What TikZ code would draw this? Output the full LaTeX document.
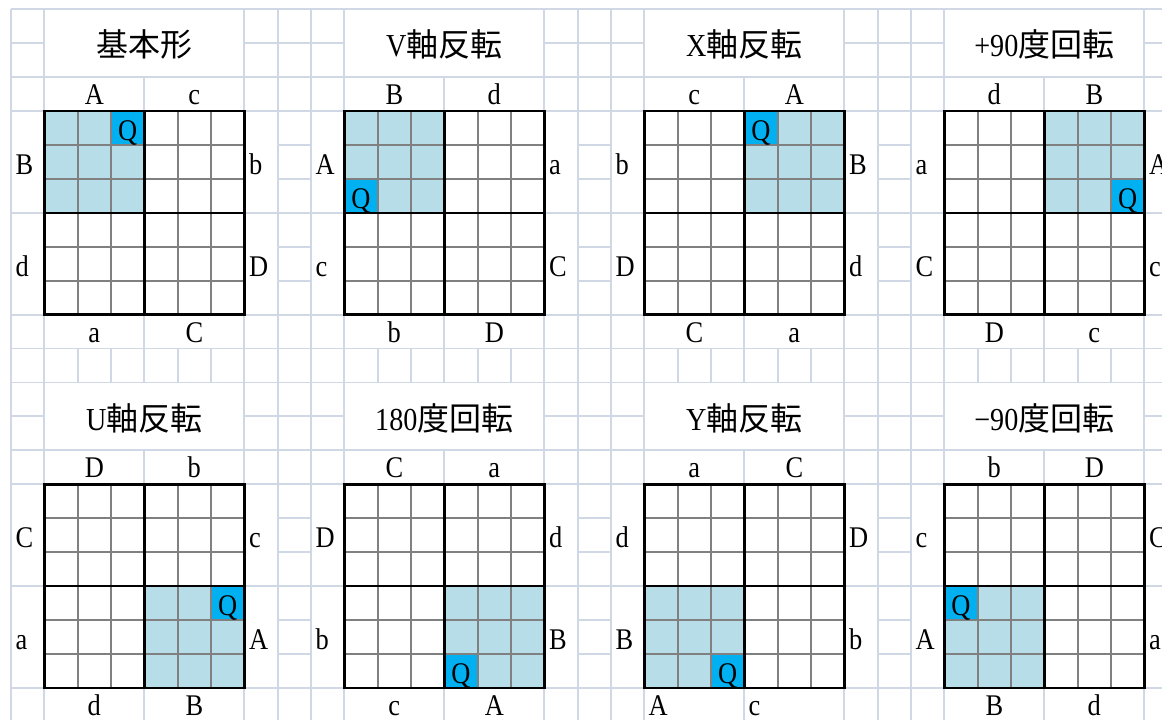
\documentclass[tikz,border=0pt]{standalone}
\usepackage{fontspec}
\setmainfont{Liberation Serif}[FakeStretch=0.88]
\newfontfamily\jp{Noto Sans CJK JP}
\definecolor{gridc}{HTML}{D0D7E5}
\definecolor{quadfill}{HTML}{B7DEE8}
\definecolor{qblue}{HTML}{00B0F0}
\definecolor{innerc}{HTML}{808080}
\def\w{33.3333}
\def\h{33.95}
\tikzset{
  bg/.style={draw=gridc,line width=1.9pt},
  innerline/.style={draw=innerc,line width=2.2pt},
  outerline/.style={draw=black,line width=2.4pt},
  lab/.style={inner sep=0pt,font=\fontsize{30}{36}\selectfont},
  ttl/.style={inner sep=0pt,font=\fontsize{32}{36}\selectfont},
  toplab/.style={lab,anchor=base},
  botlab/.style={lab,anchor=base},
  sidelab/.style={lab,anchor=base west},
  qlab/.style={inner sep=0pt,anchor=base,font=\fontsize{30}{32}\selectfont},
}
\def\bxa{2.5*\w}
\def\bxb{5.5*\w}
\newcommand\panelbox[2]{%
  \fill[white] ({\w+1},1) rectangle ({7*\w-1},{2*\h-1});
  \fill[white] ({\w+1},{2*\h+1}) rectangle ({4*\w-1},{3*\h-1});
  \fill[white] ({4*\w+1},{2*\h+1}) rectangle ({7*\w-1},{3*\h-1});
  \fill[white] ({\w+1},{9*\h+1}) rectangle ({4*\w-1},{10*\h-1});
  \fill[white] ({4*\w+1},{9*\h+1}) rectangle ({7*\w-1},{10*\h-1});
  \fill[white] (1,{3*\h+1}) rectangle ({\w-1},{6*\h-1});
  \fill[white] (1,{6*\h+1}) rectangle ({\w-1},{9*\h-1});
  \fill[white] ({7*\w+1},{3*\h+1}) rectangle ({8*\w-1},{6*\h-1});
  \fill[white] ({7*\w+1},{6*\h+1}) rectangle ({8*\w-1},{9*\h-1});
  \node[ttl] (#1-title) at ({4*\w},{\h+1.5}) {#2};
}
\newcommand\panellabels[9]{%
  \node[toplab] (#1-t1) at ({2.5*\w},{3*\h-6.5}) {#2};
  \node[toplab] (#1-t2) at ({5.5*\w},{3*\h-6.5}) {#3};
  \node[botlab] (#1-b1) at ({\bxa},{10*\h-6.5}) {#4};
  \node[botlab] (#1-b2) at ({\bxb},{10*\h-6.5}) {#5};
  \node[sidelab] (#1-l1) at (4.5,{4.5*\h+12.5}) {#6};
  \node[sidelab] (#1-l2) at (4.5,{7.5*\h+12.5}) {#7};
  \node[sidelab] (#1-r1) at ({7*\w+4.5},{4.5*\h+12.5}) {#8};
  \node[sidelab] (#1-r2) at ({7*\w+4.5},{7.5*\h+12.5}) {#9};
}
\newcommand\panelgrid[5]{%
  \fill[white] (\w,{3*\h}) rectangle ({7*\w},{9*\h});
  \fill[quadfill] ({\w+3*\w*#2},{3*\h+3*\h*#3}) rectangle +({3*\w},{3*\h});
  \fill[qblue] ({\w*(1+#4)},{\h*(3+#5)}) rectangle +(\w,\h);
  \foreach \k in {1,2,4,5} {
    \draw[innerline] ({\w*(1+\k)},{3*\h}) -- ({\w*(1+\k)},{9*\h});
    \draw[innerline] (\w,{\h*(3+\k)}) -- ({7*\w},{\h*(3+\k)});
  }
  \draw[outerline] (\w,{3*\h}) rectangle ({7*\w},{9*\h});
  \draw[outerline] ({4*\w},{3*\h}) -- ({4*\w},{9*\h});
  \draw[outerline] (\w,{6*\h}) -- ({7*\w},{6*\h});
  \node[qlab] (#1-q) at ({\w*(1.5+#4)},{\h*(4+#5)-4.5}) {Q};
}
\begin{document}
\begin{tikzpicture}[x=1pt,y=-1pt]
\useasboundingbox (0,0) rectangle (1162,720);
\fill[white] (0,0) rectangle (1162,720);
% background sheet grid
\foreach \j in {0,...,34} \draw[bg] ({11+\j*\w},9) -- ({11+\j*\w},722);
\foreach \k in {0,...,21} \draw[bg] (11,{9+\k*\h}) -- (1162,{9+\k*\h});
% panel 1
\begin{scope}[shift={(11,9)}]
  \panelbox{p1}{{\jp 基本形}}
  \panellabels{p1}{A}{c}{a}{C}{B}{d}{b}{D}
  \panelgrid{p1}{0}{0}{2}{0}
\end{scope}
% panel 2
\begin{scope}[shift={(311,9)}]
  \panelbox{p2}{V{\jp 軸反転}}
  \panellabels{p2}{B}{d}{b}{D}{A}{c}{a}{C}
  \panelgrid{p2}{0}{0}{0}{2}
\end{scope}
% panel 3
\begin{scope}[shift={(611,9)}]
  \panelbox{p3}{X{\jp 軸反転}}
  \panellabels{p3}{c}{A}{C}{a}{b}{D}{B}{d}
  \panelgrid{p3}{1}{0}{3}{0}
\end{scope}
% panel 4
\begin{scope}[shift={(911,9)}]
  \panelbox{p4}{+90{\jp 度回転}}
  \panellabels{p4}{d}{B}{D}{c}{a}{C}{A}{c}
  \panelgrid{p4}{1}{0}{5}{2}
\end{scope}
% panel 5
\begin{scope}[shift={(11,{9+11*\h})}]
  \panelbox{p5}{U{\jp 軸反転}}
  \panellabels{p5}{D}{b}{d}{B}{C}{a}{c}{A}
  \panelgrid{p5}{1}{1}{5}{3}
\end{scope}
% panel 6
\begin{scope}[shift={(311,{9+11*\h})}]
  \panelbox{p6}{180{\jp 度回転}}
  \panellabels{p6}{C}{a}{c}{A}{D}{b}{d}{B}
  \panelgrid{p6}{1}{1}{3}{5}
\end{scope}
% panel 7
\begin{scope}[shift={(611,{9+11*\h})}]
  \def\bxa{\w+4}\def\bxb{4*\w+4}
  \tikzset{botlab/.style={lab,anchor=base west}}
  \panelbox{p7}{Y{\jp 軸反転}}
  \panellabels{p7}{a}{C}{A}{c}{d}{B}{D}{b}
  \panelgrid{p7}{0}{1}{2}{5}
\end{scope}
% panel 8
\begin{scope}[shift={(911,{9+11*\h})}]
  \panelbox{p8}{−90{\jp 度回転}}
  \panellabels{p8}{b}{D}{B}{d}{c}{A}{C}{a}
  \panelgrid{p8}{0}{1}{0}{3}
\end{scope}
\end{tikzpicture}
\end{document}
